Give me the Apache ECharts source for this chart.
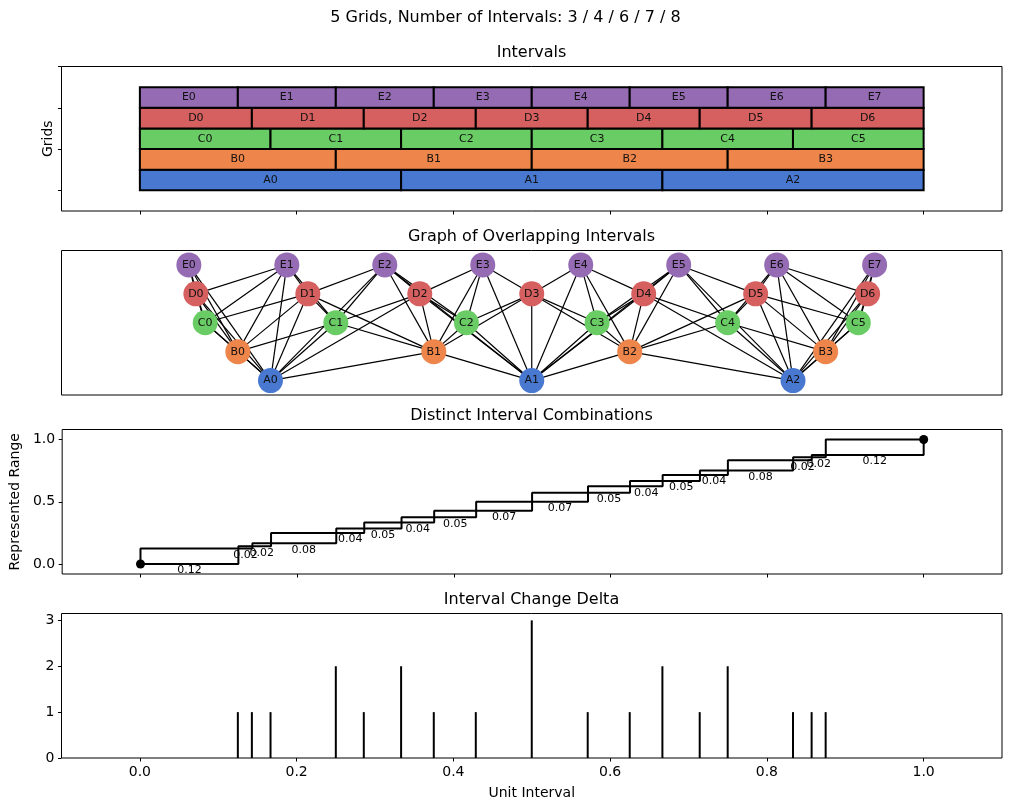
<!DOCTYPE html>
<html>
<head>
<meta charset="utf-8">
<script src="https://cdn.jsdelivr.net/npm/echarts@6/dist/echarts.min.js"></script>
<style>
  html, body { margin: 0; padding: 0; background: #fff; }
  #chart { width: 1011px; height: 811px; }
</style>
</head>
<body>
<div id="chart"></div>
<script>
// grid names and boundaries of each grid's intervals on the unit interval
const gridNames = ['A', 'B', 'C', 'D', 'E']
const boundsA = [0, 0.3333, 0.6667, 1]
const boundsB = [0, 0.25, 0.5, 0.75, 1]
const boundsC = [0, 0.1667, 0.3333, 0.5, 0.6667, 0.8333, 1]
const boundsD = [0, 0.1429, 0.2857, 0.4286, 0.5714, 0.7143, 0.8571, 1]
const boundsE = [0, 0.125, 0.25, 0.375, 0.5, 0.625, 0.75, 0.875, 1]

// change points and how many grids change there
const deltaX = [0.125, 0.1429, 0.1667, 0.25, 0.2857, 0.3333, 0.375, 0.4286, 0.5,
  0.5714, 0.625, 0.6667, 0.7143, 0.75, 0.8333, 0.8571, 0.875]
const deltaCount = [1, 1, 1, 2, 1, 2, 1, 1, 3, 1, 1, 2, 1, 2, 1, 1, 1]

// widths of the distinct combinations
const segLabels = ['0.12', '0.02', '0.02', '0.08', '0.04', '0.05', '0.04', '0.05', '0.07',
  '0.07', '0.05', '0.04', '0.05', '0.04', '0.08', '0.02', '0.02', '0.12']

const xTicks = [0, 0.2, 0.4, 0.6, 0.8, 1.0]

const colors = ['#4878d0', '#ee854a', '#6acc64', '#d65f5f', '#956cb4']
const FONT = 'DejaVu Sans'

const allBounds = [boundsA, boundsB, boundsC, boundsD, boundsE]

// boxes + nodes
let boxes = []
let boxNames = []
let nodes = []
allBounds.forEach((b, g) => {
  for (let i = 0; i < b.length - 1; i++) {
    boxes.push([b[i], b[i + 1], g])
    boxNames.push(gridNames[g] + i)
    nodes.push({
      value: [(b[i] + b[i + 1]) / 2, g],
      name: gridNames[g] + i,
      itemStyle: { color: colors[g], opacity: 1 }
    })
  }
})

// edges between intervals of different grids that overlap
let edges = []
for (let a = 0; a < boxes.length; a++) {
  for (let b = a + 1; b < boxes.length; b++) {
    if (boxes[a][2] === boxes[b][2]) continue
    let ov = Math.min(boxes[a][1], boxes[b][1]) - Math.max(boxes[a][0], boxes[b][0])
    if (ov > 1e-6) {
      edges.push([nodes[a].value[0], nodes[a].value[1], nodes[b].value[0], nodes[b].value[1]])
    }
  }
}

// step outline of the combinations
const cuts = [0].concat(deltaX, [1])
let upper = [[0, 0]]
let lower = [[0, 0]]
let segText = []
for (let i = 0; i < cuts.length - 1; i++) {
  let s = cuts[i], e = cuts[i + 1]
  upper.push([s, e], [e, e])
  lower.push([e, s], [e, e])
  segText.push([(s + e) / 2, s])
}

const tickStyle = { show: true, length: 3.5, lineStyle: { color: '#000', width: 1 } }
const gridBox = { show: true, borderColor: '#000', borderWidth: 1, left: 61.5, width: 940.5, height: 144.5 }
const noLine = { show: false, onZero: false }

function xAx (idx, showTicks, showLabels) {
  return {
    type: 'value', gridIndex: idx, min: -0.1, max: 1.1,
    axisLine: noLine,
    axisTick: Object.assign({}, tickStyle, { show: showTicks, customValues: xTicks }),
    axisLabel: {
      show: showLabels, customValues: xTicks, margin: 7,
      color: '#000', fontFamily: FONT, fontSize: 14,
      formatter: v => v.toFixed(1)
    },
    splitLine: { show: false }
  }
}

const chart = echarts.init(document.getElementById('chart'), null, { renderer: 'canvas' })

const option = {
  backgroundColor: '#fff',
  animation: false,
  graphic: [
    { type: 'text', x: 505.5, y: 18, style: { text: '5 Grids, Number of Intervals: 3 / 4 / 6 / 7 / 8', align: 'center', verticalAlign: 'middle', font: '16px "DejaVu Sans"', fill: '#000' } },
    { type: 'text', x: 531.5, y: 53, style: { text: 'Intervals', align: 'center', verticalAlign: 'middle', font: '16px "DejaVu Sans"', fill: '#000' } },
    { type: 'text', x: 531.5, y: 237, style: { text: 'Graph of Overlapping Intervals', align: 'center', verticalAlign: 'middle', font: '16px "DejaVu Sans"', fill: '#000' } },
    { type: 'text', x: 531.5, y: 416, style: { text: 'Distinct Interval Combinations', align: 'center', verticalAlign: 'middle', font: '16px "DejaVu Sans"', fill: '#000' } },
    { type: 'text', x: 531.5, y: 600, style: { text: 'Interval Change Delta', align: 'center', verticalAlign: 'middle', font: '16px "DejaVu Sans"', fill: '#000' } }
  ],
  grid: [
    Object.assign({}, gridBox, { top: 66.5 }),
    Object.assign({}, gridBox, { top: 250.5 }),
    Object.assign({}, gridBox, { top: 429.5 }),
    Object.assign({}, gridBox, { top: 613.5 })
  ],
  xAxis: [
    xAx(0, true, false),
    xAx(1, false, false),
    xAx(2, true, false),
    Object.assign(xAx(3, true, true), {
      name: 'Unit Interval', nameLocation: 'middle', nameGap: 28,
      nameTextStyle: { color: '#000', fontFamily: FONT, fontSize: 14 }
    })
  ],
  yAxis: [
    {
      type: 'value', gridIndex: 0, min: -1, max: 6,
      name: 'Grids', nameLocation: 'middle', nameGap: 6, nameRotate: 90,
      nameTextStyle: { color: '#000', fontFamily: FONT, fontSize: 14 },
      axisLine: noLine,
      axisTick: Object.assign({}, tickStyle, { customValues: [0, 2, 4, 6] }),
      axisLabel: { show: false },
      splitLine: { show: false }
    },
    {
      type: 'value', gridIndex: 1, min: -0.5, max: 4.5,
      axisLine: noLine, axisTick: { show: false },
      axisLabel: { show: false }, splitLine: { show: false }
    },
    {
      type: 'value', gridIndex: 2, min: -0.08, max: 1.08,
      name: 'Represented Range', nameLocation: 'middle', nameGap: 40, nameRotate: 90,
      nameTextStyle: { color: '#000', fontFamily: FONT, fontSize: 14 },
      axisLine: noLine,
      axisTick: Object.assign({}, tickStyle, { customValues: [0, 0.5, 1] }),
      axisLabel: {
        customValues: [0, 0.5, 1], margin: 7, color: '#000', fontFamily: FONT, fontSize: 14,
        formatter: v => v.toFixed(1)
      },
      splitLine: { show: false }
    },
    {
      type: 'value', gridIndex: 3, min: 0, max: 3.15,
      axisLine: noLine,
      axisTick: Object.assign({}, tickStyle, { customValues: [0, 1, 2, 3] }),
      axisLabel: {
        customValues: [0, 1, 2, 3], margin: 7, color: '#000', fontFamily: FONT, fontSize: 14,
        formatter: v => String(Math.round(v))
      },
      splitLine: { show: false }
    }
  ],
  series: [
    {
      // interval boxes
      type: 'custom', xAxisIndex: 0, yAxisIndex: 0,
      data: boxes,
      renderItem: (params, api) => {
        let x0 = api.value(0), x1 = api.value(1), r = api.value(2)
        let p0 = api.coord([x0, r])
        let p1 = api.coord([x1, r + 1])
        return {
          type: 'group',
          children: [
            {
              type: 'rect',
              shape: { x: p0[0], y: p1[1], width: p1[0] - p0[0], height: p0[1] - p1[1] },
              style: { fill: colors[r], stroke: '#000', lineWidth: 2 }
            },
            {
              type: 'text', x: (p0[0] + p1[0]) / 2, y: (p0[1] + p1[1]) / 2,
              style: { text: boxNames[params.dataIndex], align: 'center', verticalAlign: 'middle', font: '11px "DejaVu Sans"', fill: '#111' }
            }
          ]
        }
      }
    },
    {
      // graph edges
      type: 'custom', xAxisIndex: 1, yAxisIndex: 1, z: 1,
      data: edges,
      renderItem: (params, api) => {
        let a = api.coord([api.value(0), api.value(1)])
        let b = api.coord([api.value(2), api.value(3)])
        return {
          type: 'line',
          shape: { x1: a[0], y1: a[1], x2: b[0], y2: b[1] },
          style: { stroke: '#000', lineWidth: 1.2 }
        }
      }
    },
    {
      // graph nodes
      type: 'scatter', xAxisIndex: 1, yAxisIndex: 1, z: 3,
      symbolSize: 25,
      data: nodes,
      itemStyle: { opacity: 1 },
      label: {
        show: true, position: 'inside', formatter: p => p.name,
        color: '#111', fontFamily: FONT, fontSize: 11
      },
      emphasis: { disabled: true }
    },
    {
      type: 'line', xAxisIndex: 2, yAxisIndex: 2,
      data: upper, showSymbol: false,
      lineStyle: { color: '#000', width: 2 }
    },
    {
      type: 'line', xAxisIndex: 2, yAxisIndex: 2,
      data: lower, showSymbol: false,
      lineStyle: { color: '#000', width: 2 }
    },
    {
      type: 'scatter', xAxisIndex: 2, yAxisIndex: 2, z: 4,
      data: [[0, 0], [1, 1]], symbolSize: 9,
      itemStyle: { color: '#000', opacity: 1 }
    },
    {
      // widths under each combination
      type: 'custom', xAxisIndex: 2, yAxisIndex: 2,
      data: segText,
      renderItem: (params, api) => {
        let p = api.coord([api.value(0), api.value(1)])
        return {
          type: 'text', x: p[0], y: p[1] + 1,
          style: { text: segLabels[params.dataIndex], align: 'center', verticalAlign: 'top', font: '11px "DejaVu Sans"', fill: '#000' }
        }
      }
    },
    {
      // change delta stems
      type: 'custom', xAxisIndex: 3, yAxisIndex: 3,
      data: deltaX.map((x, i) => [x, deltaCount[i]]),
      renderItem: (params, api) => {
        let a = api.coord([api.value(0), 0])
        let b = api.coord([api.value(0), api.value(1)])
        return {
          type: 'line',
          shape: { x1: a[0], y1: a[1], x2: b[0], y2: b[1] },
          style: { stroke: '#000', lineWidth: 2 }
        }
      }
    }
  ]
}

chart.setOption(option)
</script>
</body>
</html>
